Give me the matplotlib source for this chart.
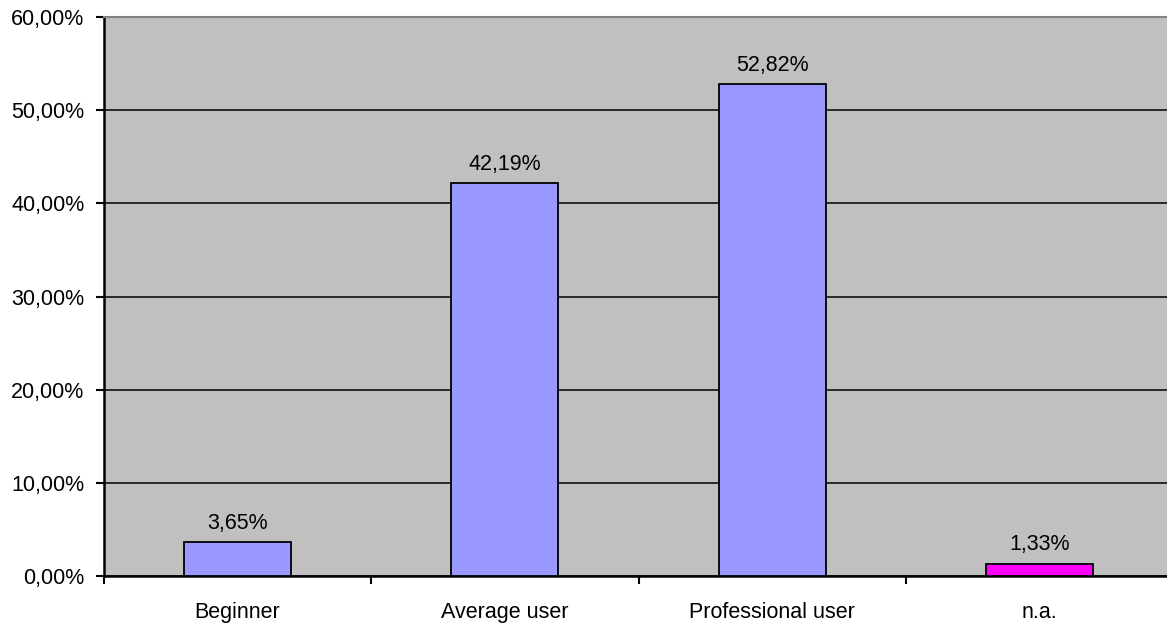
import matplotlib
matplotlib.use("Agg")
import matplotlib.pyplot as plt
from matplotlib.ticker import FixedLocator, NullFormatter

categories = ["Beginner", "Average user", "Professional user", "n.a."]
values = [3.65, 42.19, 52.82, 1.33]
bar_colors = ["#9999FF", "#9999FF", "#9999FF", "#FF00FF"]
y_ticks = [0, 10, 20, 30, 40, 50, 60]

plt.rcParams["font.family"] = ["Liberation Sans", "DejaVu Sans"]
FS = 15.5

W, H = 1167, 627
fig = plt.figure(figsize=(W / 100, H / 100), dpi=100)
left, right, top, bottom = 104, 1173, 17, 576
ax = fig.add_axes([left / W, (H - bottom) / H, (right - left) / W, (bottom - top) / H])
ax.set_facecolor("#C0C0C0")

x = list(range(len(categories)))
ax.bar(x, values, width=0.4, color=bar_colors, edgecolor="black", linewidth=1.3, zorder=3)

for xi, v in zip(x, values):
    ax.annotate(f"{v:.2f}%".replace(".", ","), (xi, v), xytext=(0, 6),
                textcoords="offset points", ha="center", va="bottom",
                fontsize=FS, zorder=4)

ax.set_xlim(-0.5, len(categories) - 0.5)
ax.set_ylim(0, 60)
ax.set_yticks(y_ticks)
ax.set_yticklabels([f"{t:.2f}%".replace(".", ",") for t in y_ticks], fontsize=FS)
ax.yaxis.grid(True, color="black", linewidth=1.1, zorder=1)
ax.set_axisbelow(True)

# category labels centered, tick marks at category boundaries
ax.set_xticks(x)
ax.set_xticklabels(categories, fontsize=FS)
ax.tick_params(axis="x", which="major", length=0, pad=19)
ax.xaxis.set_minor_locator(FixedLocator([i - 0.5 for i in range(len(categories) + 1)]))
ax.xaxis.set_minor_formatter(NullFormatter())
ax.tick_params(axis="x", which="minor", length=6, width=1.5, color="black", direction="out")
ax.tick_params(axis="y", length=6, width=1.5, color="black", direction="out", pad=8)

ax.spines["left"].set_color("black")
ax.spines["left"].set_linewidth(1.8)
ax.spines["bottom"].set_color("black")
ax.spines["bottom"].set_linewidth(1.8)
ax.spines["top"].set_color("#808080")
ax.spines["top"].set_linewidth(1.5)
ax.spines["right"].set_visible(False)

fig.savefig("out.png", dpi=100, facecolor="white")
